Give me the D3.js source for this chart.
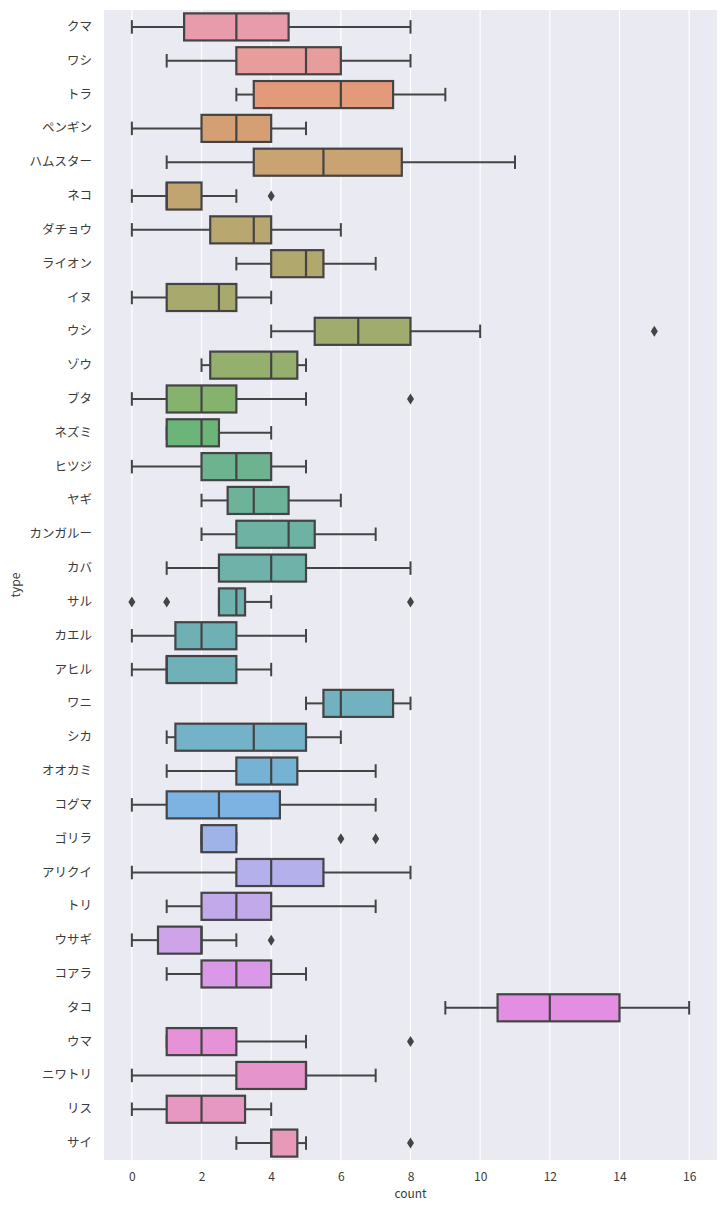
<!DOCTYPE html>
<html><head><meta charset="utf-8">
<script src="https://cdn.jsdelivr.net/npm/d3@7"></script>
<style>body{margin:0;background:#fff}svg{display:block}</style>
</head><body>
<script>
const categories = ["クマ","ワシ","トラ","ペンギン","ハムスター","ネコ","ダチョウ","ライオン","イヌ","ウシ","ゾウ","ブタ","ネズミ","ヒツジ","ヤギ","カンガルー","カバ","サル","カエル","アヒル","ワニ","シカ","オオカミ","コグマ","ゴリラ","アリクイ","トリ","ウサギ","コアラ","タコ","ウマ","ニワトリ","リス","サイ"];
const whiskerLow = [0,1,3,0,1,0,0,3,0,4,2,0,1,0,2,2,1,2.5,0,0,5,1,1,0,2,0,1,0,1,9,1,0,0,3];
const q1 =         [1.5,3,3.5,2,3.5,1,2.25,4,1,5.25,2.25,1,1,2,2.75,3,2.5,2.5,1.25,1,5.5,1.25,3,1,2,3,2,0.75,2,10.5,1,3,1,4];
const medians =    [3,5,6,3,5.5,1,3.5,5,2.5,6.5,4,2,2,3,3.5,4.5,4,3,2,1,6,3.5,4,2.5,2,4,3,2,3,12,2,5,2,4];
const q3 =         [4.5,6,7.5,4,7.75,2,4,5.5,3,8,4.75,3,2.5,4,4.5,5.25,5,3.25,3,3,7.5,5,4.75,4.25,3,5.5,4,2,4,14,3,5,3.25,4.75];
const whiskerHigh =[8,8,9,5,11,3,6,7,4,10,5,5,4,5,6,7,8,4,5,4,8,6,7,7,3,8,7,3,5,16,5,7,4,5];
const outliers = [[],[],[],[],[],[4],[],[],[],[15],[],[8],[],[],[],[],[],[0,1,8],[],[],[],[],[],[],[6,7],[],[],[4],[],[],[8],[],[],[8]];
const xTicks = [0,2,4,6,8,10,12,14,16];
const xDomain = [-0.8, 16.8];
const xLabel = "count", yLabel = "type";

// HUSL (seaborn husl_palette) implementation
const M = [[3.2406,-1.5372,-0.4986],[-0.9689,1.8758,0.0415],[0.0557,-0.2040,1.0570]];
const refU = 0.19784, refV = 0.46834, labE = 0.008856, labK = 903.3;
function maxChroma(L, H) {
  const hr = H * Math.PI / 180, sinH = Math.sin(hr), cosH = Math.cos(hr);
  const sub1 = Math.pow(L + 16, 3) / 1560896.0;
  const sub2 = sub1 > 0.008856 ? sub1 : L / 903.3;
  let res = Infinity;
  for (const [m1,m2,m3] of M) {
    const top = (0.99915*m1 + 1.05122*m2 + 1.14460*m3) * sub2;
    const rb = 0.86330*m3 - 0.17266*m2;
    const lb = 0.12949*m3 - 0.38848*m1;
    const bottom = (rb*sinH + lb*cosH) * sub2;
    for (const t of [0, 1]) {
      const C = L * (top - 1.05122*t) / (bottom + 0.17266*sinH*t);
      if (C > 0 && C < res) res = C;
    }
  }
  return res;
}
function fromLinear(c){ return c <= 0.0031308 ? 12.92*c : 1.055*Math.pow(c,1/2.4) - 0.055; }
function fInv(t){ return Math.pow(t,3) > labE ? Math.pow(t,3) : (116*t - 16)/labK; }
function huslToRgb(H, S, L) {
  const C = maxChroma(L, H) / 100 * S;
  const hr = H*Math.PI/180;
  const U = Math.cos(hr)*C, V = Math.sin(hr)*C;
  const Y = fInv((L+16)/116);
  const vU = U/(13*L) + refU, vV = V/(13*L) + refV;
  const X = 0 - (9*Y*vU)/((vU-4)*vV - vU*vV);
  const Z = (9*Y - 15*vV*Y - vV*X)/(3*vV);
  return M.map(r => Math.max(0, Math.min(1, fromLinear(r[0]*X + r[1]*Y + r[2]*Z))));
}
const bg = "#eaeaf2";
const n = categories.length;
const colors = d3.range(n).map(i => {
  let h = (i / n + 0.01) % 1;
  const rgb = huslToRgb(h*359, 0.9*99, 0.65*99);
  const c = d3.hsl(d3.rgb(rgb[0]*255, rgb[1]*255, rgb[2]*255));
  c.s *= 0.75;
  return d3.interpolateRgb(c.formatHex(), bg)(0.25);
});

const W = 727, H = 1210;
const margin = {left: 104, right: 10, top: 10, bottom: 50};
const svg = d3.select("body").append("svg").attr("width", W).attr("height", H);
const x = d3.scaleLinear().domain(xDomain).range([margin.left, W - margin.right]);
const y = d3.scaleBand().domain(categories).range([margin.top, H - margin.bottom]).padding(0);
const bw = y.bandwidth() * 0.8;
const gray = "#444444";
const font = "'Noto Sans CJK JP', 'Noto Sans', sans-serif";

svg.append("rect").attr("x", margin.left).attr("y", margin.top)
  .attr("width", W - margin.left - margin.right).attr("height", H - margin.top - margin.bottom)
  .attr("fill", bg);

svg.append("g").selectAll("line").data(xTicks).join("line")
  .attr("x1", d => x(d)).attr("x2", d => x(d))
  .attr("y1", margin.top).attr("y2", H - margin.bottom)
  .attr("stroke", "#fff").attr("stroke-width", 1.2);

const xAxis = svg.append("g").attr("transform", `translate(0,${H - margin.bottom})`)
  .call(d3.axisBottom(x).tickValues(xTicks).tickSize(0).tickPadding(12));
xAxis.select(".domain").remove();
xAxis.selectAll("text").attr("font-family", font).attr("font-size", 12).attr("fill", "#3a3a3a");

const yAxis = svg.append("g").attr("transform", `translate(${margin.left},0)`)
  .call(d3.axisLeft(y).tickSize(0).tickPadding(12));
yAxis.select(".domain").remove();
yAxis.selectAll("text").attr("font-family", font).attr("font-size", 12.5).attr("fill", "#3a3a3a");

svg.append("text").attr("x", x(8)).attr("y", 1198).attr("text-anchor", "middle")
  .attr("font-family", font).attr("font-size", 12).attr("fill", "#3a3a3a").text(xLabel);
svg.append("text").attr("transform", `translate(20,${(margin.top + H - margin.bottom)/2}) rotate(-90)`)
  .attr("text-anchor", "middle").attr("font-family", font).attr("font-size", 12).attr("fill", "#3a3a3a").text(yLabel);

const g = svg.append("g");
categories.forEach((cat, i) => {
  const cy = y(cat) + y.bandwidth()/2;
  const gg = g.append("g");
  const lw = 2;
  gg.append("line").attr("x1", x(whiskerLow[i])).attr("x2", x(q1[i])).attr("y1", cy).attr("y2", cy)
    .attr("stroke", gray).attr("stroke-width", lw);
  gg.append("line").attr("x1", x(q3[i])).attr("x2", x(whiskerHigh[i])).attr("y1", cy).attr("y2", cy)
    .attr("stroke", gray).attr("stroke-width", lw);
  [whiskerLow[i], whiskerHigh[i]].forEach(v => {
    gg.append("line").attr("x1", x(v)).attr("x2", x(v)).attr("y1", cy - bw/4).attr("y2", cy + bw/4)
      .attr("stroke", gray).attr("stroke-width", lw);
  });
  gg.append("rect").attr("x", x(q1[i])).attr("y", cy - bw/2)
    .attr("width", x(q3[i]) - x(q1[i])).attr("height", bw)
    .attr("fill", colors[i]).attr("stroke", gray).attr("stroke-width", 2.2);
  gg.append("line").attr("x1", x(medians[i])).attr("x2", x(medians[i]))
    .attr("y1", cy - bw/2).attr("y2", cy + bw/2).attr("stroke", gray).attr("stroke-width", 2.2);
  outliers[i].forEach(v => {
    const px = x(v);
    gg.append("path").attr("d", `M${px},${cy-5.5}L${px+3.5},${cy}L${px},${cy+5.5}L${px-3.5},${cy}Z`)
      .attr("fill", gray);
  });
});
</script>
</body></html>
